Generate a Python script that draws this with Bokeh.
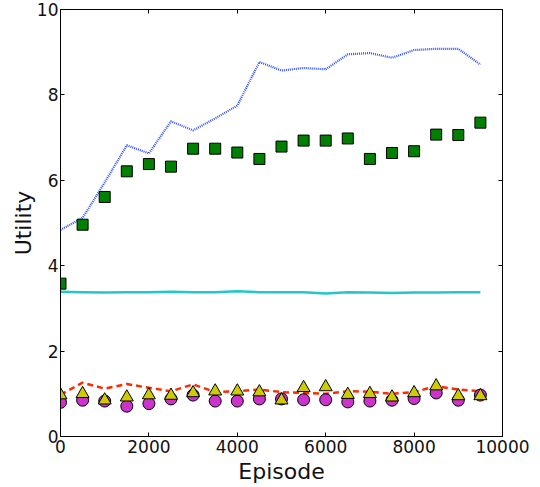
from bokeh.plotting import figure
from bokeh.models import LinearAxis, FixedTicker, Range1d
from bokeh.embed import file_html
from bokeh.resources import INLINE

episodes = [0, 500, 1000, 1500, 2000, 2500, 3000, 3500, 4000, 4500,
            5000, 5500, 6000, 6500, 7000, 7500, 8000, 8500, 9000, 9500]

blue_dotted = [4.84, 5.12, 5.95, 6.82, 6.63, 7.38, 7.17, 7.45, 7.75, 8.77,
               8.57, 8.63, 8.60, 8.95, 8.98, 8.87, 9.05, 9.08, 9.08, 8.71]
green_squares = [3.58, 4.96, 5.61, 6.21, 6.38, 6.32, 6.74, 6.74, 6.65, 6.50,
                 6.79, 6.93, 6.93, 6.98, 6.50, 6.64, 6.68, 7.07, 7.06, 7.35]
cyan_line = [3.39, 3.38, 3.37, 3.38, 3.38, 3.39, 3.38, 3.38, 3.40, 3.38,
             3.38, 3.38, 3.35, 3.38, 3.37, 3.36, 3.37, 3.37, 3.38, 3.38]
red_dashed = [0.98, 1.26, 1.12, 1.23, 1.14, 1.06, 1.22, 1.04, 1.06, 1.10,
              1.04, 1.02, 1.00, 1.06, 1.05, 1.00, 1.04, 1.18, 1.10, 1.06]
yellow_triangles = [0.97, 1.00, 0.85, 0.92, 0.97, 0.96, 1.02, 1.06, 1.06, 1.04,
                    0.85, 1.14, 1.16, 0.98, 1.00, 0.92, 1.02, 1.18, 0.95, 0.95]
magenta_circles = [0.80, 0.85, 0.83, 0.71, 0.77, 0.88, 0.97, 0.83, 0.83, 0.88,
                   0.88, 0.86, 0.86, 0.81, 0.83, 0.85, 0.89, 1.02, 0.85, 0.97]

x_ticks = [0, 2000, 4000, 6000, 8000, 10000]
y_ticks = [0, 2, 4, 6, 8, 10]

FONT = "DejaVu Sans"

p = figure(width=532, height=494, output_backend="svg", toolbar_location=None,
           x_range=Range1d(0, 10000), y_range=Range1d(0, 10),
           min_border_left=60, min_border_right=30, min_border_top=17,
           min_border_bottom=42, x_axis_label="Episode", y_axis_label="Utility")
p.styles = {"margin-top": "-8px", "margin-bottom": "-8px"}
p.background_fill_color = "white"
p.border_fill_color = "white"
p.outline_line_color = "black"
p.outline_line_width = 1
p.xgrid.grid_line_color = None
p.ygrid.grid_line_color = None

for ax in list(p.xaxis) + list(p.yaxis):
    ax.axis_line_color = "black"
    ax.major_tick_in = 4
    ax.major_tick_out = 0
    ax.minor_tick_line_color = None
    ax.major_tick_line_color = "black"
    ax.major_label_text_font = FONT
    ax.major_label_text_font_size = "17px"
    ax.major_label_text_color = "#111111"
    ax.axis_label_text_font = FONT
    ax.axis_label_text_font_size = "22px"
    ax.axis_label_text_font_style = "normal"
    ax.axis_label_text_color = "#111111"
p.xaxis.major_label_standoff = 3
p.xaxis.axis_label_standoff = 3
p.yaxis.major_label_standoff = 2
p.yaxis.axis_label_standoff = -2
p.xaxis.ticker = FixedTicker(ticks=x_ticks)
p.yaxis.ticker = FixedTicker(ticks=y_ticks)

top_axis = LinearAxis(ticker=FixedTicker(ticks=x_ticks))
right_axis = LinearAxis(ticker=FixedTicker(ticks=y_ticks))
for ax in (top_axis, right_axis):
    ax.axis_line_color = "black"
    ax.major_tick_in = 4
    ax.major_tick_out = 0
    ax.minor_tick_line_color = None
    ax.major_label_text_font_size = "1px"
    ax.major_label_text_color = None
    ax.major_label_standoff = 0
p.add_layout(top_axis, "above")
p.add_layout(right_axis, "right")

p.line(episodes, cyan_line, line_color="#22c8c8", line_width=2.5)
p.line(episodes, blue_dotted, line_color="#2f50ff", line_width=2.2, line_dash="1 1")
p.line(episodes, red_dashed, line_color="#ff2a00", line_width=2.5, line_dash="6 4")
p.scatter(episodes, magenta_circles, marker="circle", size=12,
          fill_color="#cc33cc", line_color="black", line_width=1)
p.scatter(episodes, yellow_triangles, marker="triangle", size=13,
          fill_color="#cccc00", line_color="black", line_width=1)
p.scatter(episodes, green_squares, marker="square", size=11,
          fill_color="#008000", line_color="black", line_width=1)

open("out.html", "w").write(file_html(p, INLINE))
